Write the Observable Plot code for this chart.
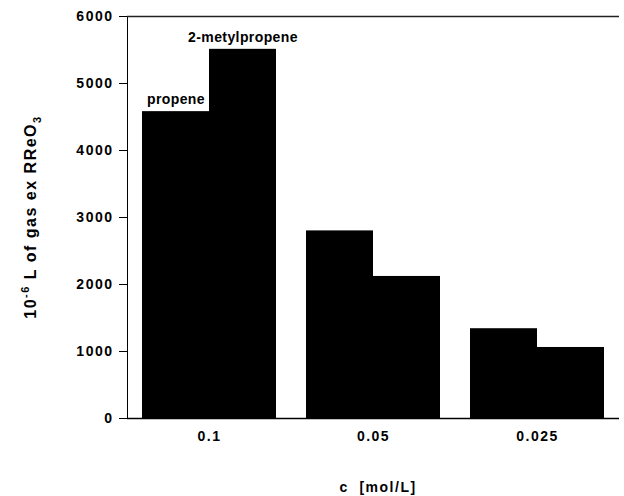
<!DOCTYPE html>
<html>
<head>
<meta charset="utf-8">
<script src="https://cdn.jsdelivr.net/npm/d3@7"></script>
<script src="https://cdn.jsdelivr.net/npm/@observablehq/plot@0.6"></script>
<style>
  body { margin: 0; background: #fff; }
  #chart svg { font-family: "Liberation Sans", Arial, sans-serif; }
  #chart g[aria-label="text"] text { letter-spacing: 0.4px; }
</style>
</head>
<body>
<div id="chart"></div>
<script>
// Data
const groups = ["0.1", "0.05", "0.025"];           // c [mol/L]
const series = ["propene", "2-metylpropene"];
const propene = [4580, 2800, 1340];
const metylpropene = [5510, 2120, 1060];
const yTicks = [0, 1000, 2000, 3000, 4000, 5000, 6000];
const xLabel = "c  [mol/L]";

const rows = [];
groups.forEach((g, i) => {
  rows.push({group: g, series: series[0], value: propene[i]});
  rows.push({group: g, series: series[1], value: metylpropene[i]});
});

const chart = Plot.plot({
  width: 624,
  height: 496,
  marginLeft: 126,
  marginRight: 4,
  marginTop: 16,
  marginBottom: 78,
  style: {fontSize: "14px", fontWeight: "bold", letterSpacing: "1.5px", color: "black", background: "white"},
  facet: {data: rows, x: "group", marginTop: 0, marginBottom: 0, marginLeft: 0, marginRight: 0},
  fx: {domain: groups, padding: 0, axis: "bottom", label: null, tickSize: 0, tickPadding: 13},
  x: {domain: series, paddingInner: 0, paddingOuter: 0.22, axis: null},
  y: {domain: [0, 6000], ticks: yTicks, tickFormat: d3.format("d"), tickSize: 8, tickPadding: 6, label: null, line: true},
  marks: [
    Plot.barY(rows, {x: "series", y: "value", fill: "black"}),
    Plot.ruleY([0], {stroke: "black", strokeWidth: 1.5}),
    Plot.ruleY([6000], {stroke: "#222", strokeWidth: 1.5}),
    Plot.text(rows, {filter: d => d.group === groups[0], x: "series", y: "value", text: "series", dy: -12, fontSize: 14, fontWeight: "bold", fill: "black"})
  ]
});

document.getElementById("chart").appendChild(chart);

const svg = d3.select(chart.tagName.toLowerCase() === "svg" ? chart : chart.querySelector("svg"));

// y-axis title with superscript and subscript
const yt = svg.append("text")
  .attr("transform", "translate(36,217) rotate(-90)")
  .attr("text-anchor", "middle")
  .style("font-size", "16px")
  .style("font-weight", "bold")
  .style("letter-spacing", "1.5px")
  .attr("fill", "black");
yt.append("tspan").text("10");
yt.append("tspan").attr("dy", -7).style("font-size", "11px").text("-6");
yt.append("tspan").attr("dy", 7).text(" L of gas ex RReO");
yt.append("tspan").attr("dy", 5).style("font-size", "11px").text("3");

// x-axis title
svg.append("text")
  .attr("x", 378)
  .attr("y", 492)
  .attr("text-anchor", "middle")
  .style("font-size", "14px")
  .style("font-weight", "bold")
  .style("letter-spacing", "1.5px")
  .style("white-space", "pre")
  .attr("fill", "black")
  .text(xLabel);
</script>
</body>
</html>
